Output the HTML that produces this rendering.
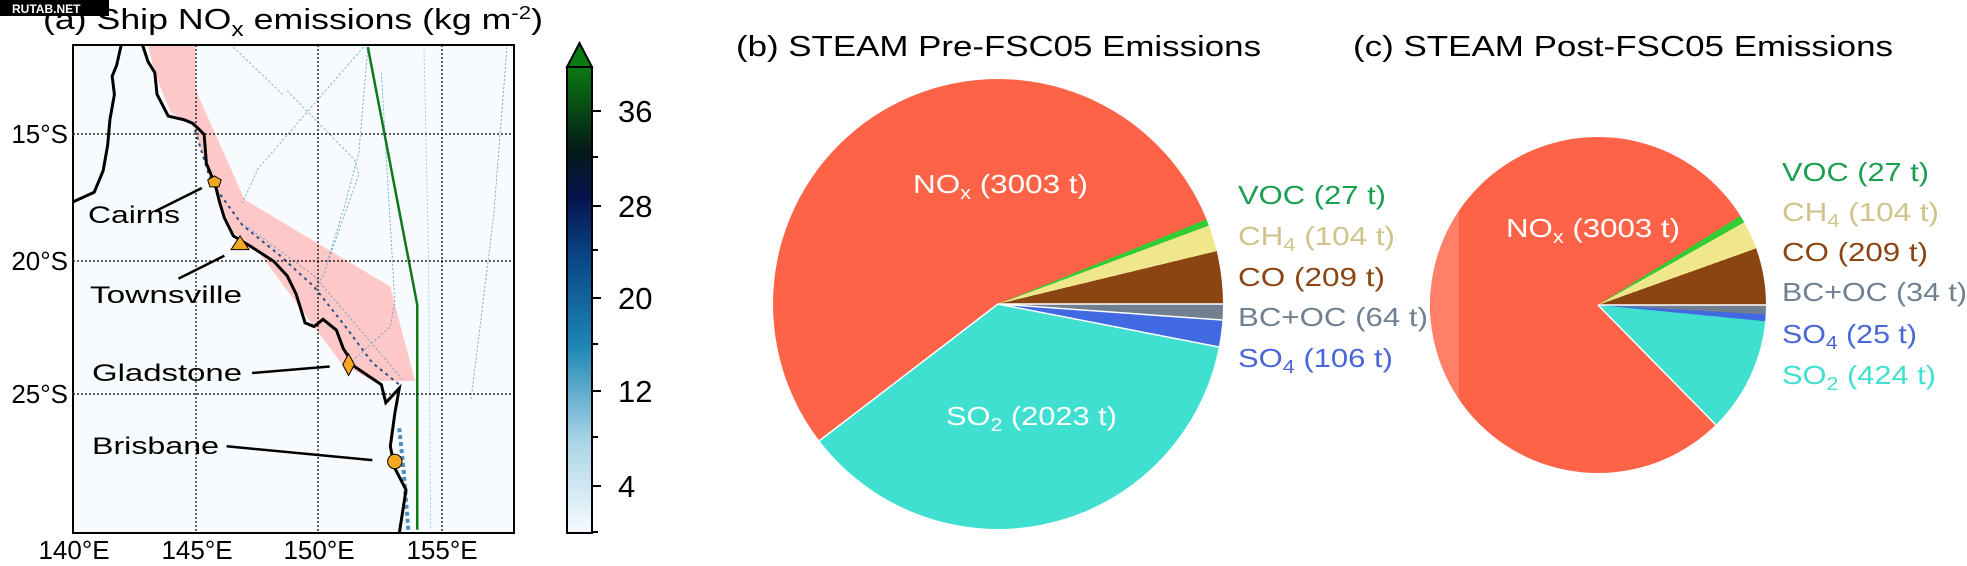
<!DOCTYPE html>
<html><head><meta charset="utf-8"><style>
html,body{margin:0;padding:0;background:#fff;}
#wrap{position:relative;width:1967px;height:566px;overflow:hidden;font-family:"Liberation Sans",sans-serif;}
.pie{position:absolute;border-radius:50%;}
svg{position:absolute;left:0;top:0;}
</style></head><body><div id="wrap">
<div class="pie" style="left:773px;top:79px;width:450px;height:450px;background:conic-gradient(#ff6347 0deg 67.9deg,#32cd32 67.9deg 69.6deg,#f0e68c 69.6deg 76.4deg,#8b4513 76.4deg 90deg,#708090 90deg 94.16deg,#4169e1 94.16deg 101.06deg,#40e0d0 101.06deg 232.6deg,#ff6347 232.6deg 360deg);"></div>
<div class="pie" style="left:1430px;top:137px;width:336px;height:336px;background:conic-gradient(#ff6347 0deg 57.96deg,#32cd32 57.96deg 60.5deg,#f0e68c 60.5deg 70.3deg,#8b4513 70.3deg 90deg,#708090 90deg 93.2deg,#4169e1 93.2deg 95.55deg,#40e0d0 95.55deg 135.4deg,#ff6347 135.4deg 360deg);"></div>
<svg width="1967" height="566" viewBox="0 0 1967 566" font-family="Liberation Sans, sans-serif">
<defs>
<linearGradient id="cb" x1="0" y1="1" x2="0" y2="0">
<stop offset="0" stop-color="#f7fbff"/>
<stop offset="0.2" stop-color="#a8d4e6"/>
<stop offset="0.4" stop-color="#1f86b4"/>
<stop offset="0.58" stop-color="#0a4a8a"/>
<stop offset="0.72" stop-color="#06134f"/>
<stop offset="0.82" stop-color="#051a18"/>
<stop offset="1" stop-color="#0a7a12"/>
</linearGradient>
<clipPath id="mapclip"><rect x="73" y="45" width="441" height="488"/></clipPath>
</defs>
<!-- pie separators -->
<g stroke="#fff" stroke-width="1.5">
<line x1="998" y1="304" x2="819" y2="441"/>
<line x1="998" y1="304" x2="1223" y2="304"/>
<line x1="998" y1="304" x2="1222" y2="320"/>
<line x1="998" y1="304" x2="1219" y2="347"/>
<line x1="1598" y1="305" x2="1716" y2="425"/>
<line x1="1598" y1="305" x2="1766" y2="305"/>
</g>
<rect x="1431" y="180" width="28" height="250" fill="#fff" opacity="0.18"/>
<!-- panel a map -->
<rect x="73" y="45" width="441" height="488" fill="#f8fbfd"/>
<g clip-path="url(#mapclip)">
<g transform="scale(0.44863,0.36284)">
<polygon points="330,125 435,125 435,245 545,550 870,790 925,1050 830,1050 760,1000 700,900 640,800 580,700 520,640 470,500 430,340 380,310 345,200" fill="#ffc8c8"/>
<g fill="none" stroke="#3d8fbf" stroke-width="2" stroke-dasharray="6,5" vector-effect="non-scaling-stroke" opacity="0.75">
<polyline points="520,130 630,260" />
<polyline points="810,130 575,465 540,560"/>
<polyline points="640,250 790,440 800,480 720,760 700,800"/>
<polyline points="820,130 800,420 770,560 730,720"/>
<polyline points="850,200 880,830 870,900 780,1000"/>
<polyline points="545,620 700,760 900,1050"/>
<polyline points="945,130 955,700 960,1460" stroke="#7ab8d8"/>
<polyline points="1130,130 1100,600 1050,1100"/>
</g>
<polyline points="820,130 930,840 930,1460" fill="none" stroke="#0d7a1a" stroke-width="2.5" vector-effect="non-scaling-stroke"/>
<polyline points="890,1180 900,1300 910,1460" fill="none" stroke="#1a6aa8" stroke-width="4" stroke-dasharray="4,3" vector-effect="non-scaling-stroke" opacity="0.75"/>
<polyline points="430,340 470,500 540,620 620,700 700,790 770,900 830,1000 890,1060" fill="none" stroke="#2a5080" stroke-width="2" stroke-dasharray="3,4" vector-effect="non-scaling-stroke"/>
<g fill="none" stroke="#000" stroke-width="3" vector-effect="non-scaling-stroke">
<polyline points="270,125 260,180 250,210 255,260 245,330 240,400 230,470 210,530 165,555 160,560" vector-effect="non-scaling-stroke"/>
<polyline points="318,125 330,170 345,200 350,260 375,320 410,330 430,340 455,370 460,450 480,510 490,560 500,600 520,650 560,680 610,720 640,760 660,810 680,890 700,900 720,880 750,910 765,960 790,1010 850,1060 860,1110 890,1070 880,1140 870,1230 880,1290 905,1350 890,1470" vector-effect="non-scaling-stroke"/>
</g>
<polygon points="478,485 493,496 488,515 468,515 463,496" fill="#f5a623" stroke="#000" stroke-width="1" vector-effect="non-scaling-stroke"/>
<polygon points="535,650 555,688 515,688" fill="#f5a623" stroke="#000" stroke-width="1" vector-effect="non-scaling-stroke"/>
<polygon points="777,975 790,1005 777,1035 764,1005" fill="#f5a623" stroke="#000" stroke-width="1" vector-effect="non-scaling-stroke"/>
<ellipse cx="880" cy="1272" rx="16" ry="20" fill="#f5a623" stroke="#000" stroke-width="1" vector-effect="non-scaling-stroke"/>
<g stroke="#000" stroke-width="2.5" vector-effect="non-scaling-stroke">
<line x1="345" y1="583" x2="450" y2="518" vector-effect="non-scaling-stroke"/>
<line x1="398" y1="768" x2="500" y2="705" vector-effect="non-scaling-stroke"/>
<line x1="562" y1="1028" x2="735" y2="1010" vector-effect="non-scaling-stroke"/>
<line x1="505" y1="1230" x2="830" y2="1268" vector-effect="non-scaling-stroke"/>
</g>
</g>
<g stroke="#000" stroke-width="1.2" stroke-dasharray="2,2">
<line x1="196" y1="45" x2="196" y2="533"/><line x1="318" y1="45" x2="318" y2="533"/><line x1="442" y1="45" x2="442" y2="533"/>
<line x1="73" y1="134" x2="514" y2="134"/><line x1="73" y1="261" x2="514" y2="261"/><line x1="73" y1="394" x2="514" y2="394"/>
</g>
<g font-size="24" fill="#000">
<text x="88" y="223" textLength="92" lengthAdjust="spacingAndGlyphs">Cairns</text>
<text x="90" y="303" textLength="152" lengthAdjust="spacingAndGlyphs">Townsville</text>
<text x="92" y="381" textLength="150" lengthAdjust="spacingAndGlyphs">Gladstone</text>
<text x="92" y="454" textLength="127" lengthAdjust="spacingAndGlyphs">Brisbane</text>
</g>
</g>
<rect x="73" y="45" width="441" height="488" fill="none" stroke="#000" stroke-width="2"/>
<g font-size="26" fill="#000" text-anchor="end">
<text x="68" y="143">15°S</text><text x="68" y="270">20°S</text><text x="68" y="403">25°S</text>
</g>
<g font-size="26" fill="#000" text-anchor="middle">
<text x="74" y="559">140°E</text><text x="197" y="559">145°E</text><text x="319" y="559">150°E</text><text x="442" y="559">155°E</text>
</g>
<text x="43" y="29" font-size="29" fill="#000" textLength="500" lengthAdjust="spacingAndGlyphs">(a) Ship NO<tspan font-size="20" dy="7">x</tspan><tspan dy="-7"> emissions (kg m</tspan><tspan font-size="18" dy="-10">-2</tspan><tspan dy="10">)</tspan></text>
<rect x="0" y="0" width="109" height="16" fill="#000"/>
<text x="12" y="13" font-size="12" font-weight="bold" fill="#fff">RUTAB.NET</text>
<!-- colorbar -->
<rect x="567" y="67" width="25" height="466" fill="url(#cb)"/>
<polygon points="567,67 579.5,43 592,67" fill="#0a7a12" stroke="#000" stroke-width="2"/>
<rect x="567" y="67" width="25" height="466" fill="none" stroke="#000" stroke-width="2"/>
<g stroke="#000" stroke-width="2">
<line x1="592" y1="111" x2="601" y2="111"/><line x1="592" y1="206" x2="601" y2="206"/><line x1="592" y1="298" x2="601" y2="298"/><line x1="592" y1="391" x2="601" y2="391"/><line x1="592" y1="486" x2="601" y2="486"/>
<line x1="592" y1="157" x2="598" y2="157"/><line x1="592" y1="250" x2="598" y2="250"/><line x1="592" y1="344" x2="598" y2="344"/><line x1="592" y1="437" x2="598" y2="437"/><line x1="592" y1="532" x2="598" y2="532"/>
</g>
<g font-size="31" fill="#000">
<text x="618" y="122">36</text><text x="618" y="217">28</text><text x="618" y="309">20</text><text x="618" y="402">12</text><text x="618" y="497">4</text>
</g>
<!-- titles -->
<text x="736" y="56" font-size="29" fill="#000" textLength="525" lengthAdjust="spacingAndGlyphs">(b) STEAM Pre-FSC05 Emissions</text>
<text x="1353" y="56" font-size="29" fill="#000" textLength="540" lengthAdjust="spacingAndGlyphs">(c) STEAM Post-FSC05 Emissions</text>
<!-- pie b labels -->
<g font-size="26">
<text x="913" y="193" fill="#fff" textLength="175" lengthAdjust="spacingAndGlyphs">NO<tspan font-size="18" dy="6">x</tspan><tspan dy="-6"> (3003 t)</tspan></text>
<text x="946" y="425" fill="#fff" textLength="171" lengthAdjust="spacingAndGlyphs">SO<tspan font-size="18" dy="6">2</tspan><tspan dy="-6"> (2023 t)</tspan></text>
<text x="1238" y="204" fill="#1a9e50" textLength="148" lengthAdjust="spacingAndGlyphs">VOC (27 t)</text>
<text x="1238" y="245" fill="#cfc48c" textLength="157" lengthAdjust="spacingAndGlyphs">CH<tspan font-size="18" dy="6">4</tspan><tspan dy="-6"> (104 t)</tspan></text>
<text x="1238" y="286" fill="#8b4513" textLength="147" lengthAdjust="spacingAndGlyphs">CO (209 t)</text>
<text x="1238" y="326" fill="#708090" textLength="190" lengthAdjust="spacingAndGlyphs">BC+OC (64 t)</text>
<text x="1238" y="367" fill="#4a66d8" textLength="155" lengthAdjust="spacingAndGlyphs">SO<tspan font-size="18" dy="6">4</tspan><tspan dy="-6"> (106 t)</tspan></text>
</g>
<!-- pie c labels -->
<g font-size="26">
<text x="1506" y="237" fill="#fff" textLength="174" lengthAdjust="spacingAndGlyphs">NO<tspan font-size="18" dy="6">x</tspan><tspan dy="-6"> (3003 t)</tspan></text>
<text x="1782" y="181" fill="#1a9e50" textLength="147" lengthAdjust="spacingAndGlyphs">VOC (27 t)</text>
<text x="1782" y="221" fill="#cfc48c" textLength="157" lengthAdjust="spacingAndGlyphs">CH<tspan font-size="18" dy="6">4</tspan><tspan dy="-6"> (104 t)</tspan></text>
<text x="1782" y="261" fill="#8b4513" textLength="146" lengthAdjust="spacingAndGlyphs">CO (209 t)</text>
<text x="1782" y="301" fill="#708090" textLength="185" lengthAdjust="spacingAndGlyphs">BC+OC (34 t)</text>
<text x="1782" y="343" fill="#4a66d8" textLength="135" lengthAdjust="spacingAndGlyphs">SO<tspan font-size="18" dy="6">4</tspan><tspan dy="-6"> (25 t)</tspan></text>
<text x="1782" y="384" fill="#40e0d0" textLength="154" lengthAdjust="spacingAndGlyphs">SO<tspan font-size="18" dy="6">2</tspan><tspan dy="-6"> (424 t)</tspan></text>
</g>
</svg>
</div></body></html>
